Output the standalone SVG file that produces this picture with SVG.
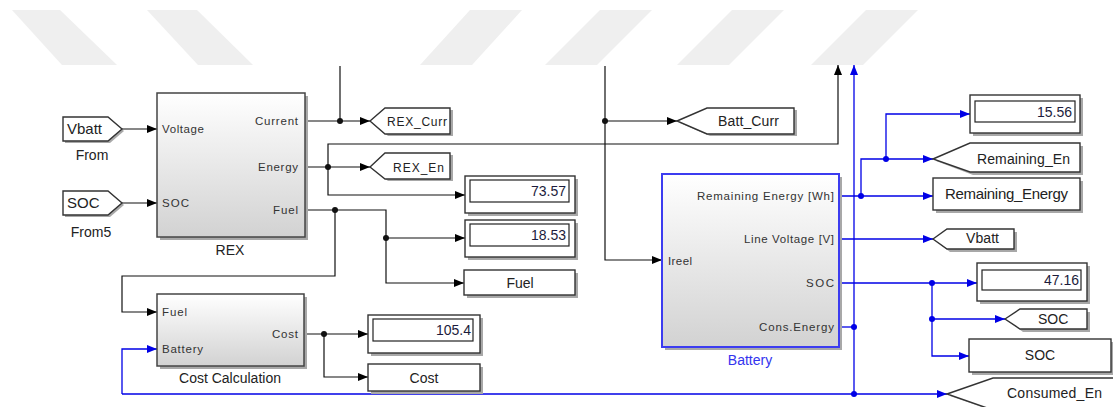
<svg xmlns="http://www.w3.org/2000/svg" width="1113" height="407" viewBox="0 0 1113 407">
<defs>
<linearGradient id="g" x1="0" y1="0" x2="0" y2="1"><stop offset="0" stop-color="#ffffff"/><stop offset="1" stop-color="#d2d2d2"/></linearGradient>
<marker id="ak" markerWidth="10" markerHeight="8" refX="10" refY="4" orient="auto" markerUnits="userSpaceOnUse"><path d="M0,0 L10,4 L0,8 z" fill="#000"/></marker>
<marker id="ab" markerWidth="10" markerHeight="8" refX="10" refY="4" orient="auto" markerUnits="userSpaceOnUse"><path d="M0,0 L10,4 L0,8 z" fill="#0000e6"/></marker>
</defs>
<style>
.wm{fill:#efefef}
.k{fill:none;stroke:#111;stroke-width:1.2}
.ka{fill:none;stroke:#111;stroke-width:1.2;marker-end:url(#ak)}
.b{fill:none;stroke:#0000e6;stroke-width:1.3}
.ba{fill:none;stroke:#0000e6;stroke-width:1.3;marker-end:url(#ab)}
.dk{fill:#111}
.db{fill:#0000e6}
.sh{fill:#a8a8a8}
.blk{fill:url(#g);stroke:#444;stroke-width:1.5}
.bblk{fill:url(#g);stroke:#3c3cf0;stroke-width:2}
.box{fill:#fff;stroke:#333;stroke-width:1.4}
.in{fill:#fff;stroke:#222;stroke-width:1.2}
.t{font-family:"Liberation Sans",Arial,sans-serif;fill:#222}
.p{font-size:11.5px;fill:#333}
.l{font-size:14px}
.n{font-size:14px;fill:#1c1c3c;text-anchor:end}
.m{text-anchor:middle}
.e{text-anchor:end}
</style>
<g id="watermark">
<polygon class="wm" points="12,10 60,10 117,65 62,65"/>
<polygon class="wm" points="147,10 197,10 253,65 198,65"/>
<polygon class="wm" points="470,10 522,10 472,65 420,65"/>
<polygon class="wm" points="600,10 652,10 597,65 545,65"/>
<polygon class="wm" points="732,10 784,10 729,65 677,65"/>
<polygon class="wm" points="866,10 918,10 863,65 811,65"/>
</g>
<g id="connectors">
<path class="ka" d="M122,129 H157"/>
<path class="ka" d="M122,203 H157"/>
<path class="ka" d="M305,121 H370"/>
<path class="k" d="M340,66 V121"/>
<path class="ka" d="M305,167 H370"/>
<path class="ka" d="M328,167 V144 H838 V65"/>
<path class="ka" d="M328,167 V195 H465"/>
<path class="ka" d="M305,210 H386 V283 H464"/>
<path class="ka" d="M386,238 H465"/>
<path class="ka" d="M335,210 V276 H122 V312 H157"/>
<path class="ka" d="M304,334 H368"/>
<path class="ka" d="M324,334 V377 H368"/>
<path class="ka" d="M605,66 V260 H662"/>
<path class="ka" d="M605,121 H677"/>
<path class="ba" d="M839,196 H933"/>
<path class="ba" d="M861,196 V159 H933"/>
<path class="ba" d="M886,159 V114 H970"/>
<path class="ba" d="M839,239 H933"/>
<path class="ba" d="M839,283 H977"/>
<path class="ba" d="M932,283 V356 H969"/>
<path class="ba" d="M932,319 H1005"/>
<path class="b" d="M839,327 H854"/>
<path class="ba" d="M854,394 V65"/>
<path class="ba" d="M122,394 H947"/>
<path class="ba" d="M122,394 V349 H157"/>
<circle class="dk" cx="340" cy="121" r="3"/>
<circle class="dk" cx="328" cy="167" r="3"/>
<circle class="dk" cx="335" cy="210" r="3"/>
<circle class="dk" cx="386" cy="238" r="3"/>
<circle class="dk" cx="324" cy="334" r="3"/>
<circle class="dk" cx="605" cy="121" r="3"/>
<circle class="db" cx="861" cy="196" r="3"/>
<circle class="db" cx="886" cy="159" r="3"/>
<circle class="db" cx="932" cy="283" r="3"/>
<circle class="db" cx="932" cy="319" r="3"/>
<circle class="db" cx="854" cy="327" r="3"/>
<circle class="db" cx="854" cy="394" r="3"/>
</g>
<g id="from-vbatt">
<polygon class="sh" points="65,119 110,119 124,131 110,143 65,143"/>
<polygon class="box" points="63,117 108,117 122,129 108,141 63,141"/>
<text class="t" x="67" y="134" font-size="15">Vbatt</text>
<text class="t l m" x="92" y="160">From</text>
</g>
<g id="from-soc">
<polygon class="sh" points="65,193 110,193 124,205 110,217 65,217"/>
<polygon class="box" points="63,191 108,191 122,203 108,215 63,215"/>
<text class="t" x="67" y="208" font-size="15">SOC</text>
<text class="t l m" x="91" y="237">From5</text>
</g>
<g id="rex">
<rect class="sh" x="160" y="96" width="148" height="144"/>
<rect class="blk" x="157" y="93" width="148" height="144"/>
<text class="t p" x="162" y="133" textLength="42">Voltage</text>
<text class="t p" x="162" y="207" textLength="27">SOC</text>
<text class="t p e" x="298" y="125" textLength="43">Current</text>
<text class="t p e" x="298" y="171" textLength="40">Energy</text>
<text class="t p e" x="298" y="214" textLength="25">Fuel</text>
<text class="t l m" x="230" y="255">REX</text>
</g>
<g id="goto-rex-curr">
<polygon class="sh" points="373,123 388,110 453,110 453,136 388,136"/>
<polygon class="box" points="370,121 385,108 450,108 450,134 385,134"/>
<text class="t" x="387" y="126" font-size="12" textLength="60">REX_Curr</text>
</g>
<g id="goto-rex-en">
<polygon class="sh" points="373,169 388,155 453,155 453,181 388,181"/>
<polygon class="box" points="370,167 385,153 450,153 450,179 385,179"/>
<text class="t" x="393" y="172" font-size="12" textLength="51">REX_En</text>
</g>
<g id="display-7357">
<rect class="sh" x="468" y="179" width="110" height="37"/>
<rect class="box" x="465" y="176" width="110" height="37"/>
<rect class="in" x="470" y="180" width="99" height="22"/>
<text class="t n" x="566" y="196">73.57</text>
</g>
<g id="display-1853">
<rect class="sh" x="468" y="223" width="110" height="37"/>
<rect class="box" x="465" y="220" width="110" height="37"/>
<rect class="in" x="470" y="224" width="99" height="22"/>
<text class="t n" x="566" y="240">18.53</text>
</g>
<g id="fuel">
<rect class="sh" x="467" y="273" width="111" height="25"/>
<rect class="box" x="464" y="270" width="111" height="25"/>
<text class="t l m" x="520" y="288">Fuel</text>
</g>
<g id="cost-calculation">
<rect class="sh" x="160" y="297" width="147" height="72"/>
<rect class="blk" x="157" y="294" width="147" height="72"/>
<text class="t p" x="162" y="316" textLength="25">Fuel</text>
<text class="t p" x="162" y="353" textLength="41">Battery</text>
<text class="t p e" x="298" y="338" textLength="26">Cost</text>
<text class="t l m" x="230" y="383">Cost Calculation</text>
</g>
<g id="display-1054">
<rect class="sh" x="371" y="318" width="112" height="38"/>
<rect class="box" x="368" y="315" width="112" height="38"/>
<rect class="in" x="373" y="319" width="100" height="22"/>
<text class="t n" x="471" y="335">105.4</text>
</g>
<g id="cost">
<rect class="sh" x="371" y="367" width="112" height="27"/>
<rect class="box" x="368" y="364" width="112" height="27"/>
<text class="t l m" x="424" y="383">Cost</text>
</g>
<g id="goto-batt-curr">
<polygon class="sh" points="680,123 710,110 797,110 797,136 710,136"/>
<polygon class="box" points="677,121 707,108 794,108 794,134 707,134"/>
<text class="t" x="718" y="126" font-size="14" textLength="61">Batt_Curr</text>
</g>
<g id="battery">
<rect class="sh" x="665" y="177" width="177" height="173"/>
<rect class="bblk" x="662" y="174" width="177" height="173"/>
<text class="t p e" x="834" y="200" textLength="137">Remaining Energy [Wh]</text>
<text class="t p e" x="834" y="243" textLength="90">Line Voltage [V]</text>
<text class="t p" x="668" y="265" textLength="24">Ireel</text>
<text class="t p e" x="834" y="287" textLength="28">SOC</text>
<text class="t p e" x="834" y="331" textLength="75">Cons.Energy</text>
<text class="t l m" x="750" y="365" style="fill:#3333ee">Battery</text>
</g>
<g id="display-1556">
<rect class="sh" x="973" y="98" width="110" height="38"/>
<rect class="box" x="970" y="95" width="110" height="38"/>
<rect class="in" x="975" y="101" width="100" height="21"/>
<text class="t n" x="1072" y="117">15.56</text>
</g>
<g id="goto-remaining-en">
<polygon class="sh" points="936,161 973,146 1083,146 1083,175 973,175"/>
<polygon class="box" points="933,159 970,143 1080,143 1080,172 970,172"/>
<text class="t" x="977" y="164" font-size="14" textLength="93">Remaining_En</text>
</g>
<g id="remaining-energy">
<rect class="sh" x="936" y="181" width="147" height="32"/>
<rect class="box" x="933" y="178" width="147" height="32"/>
<text class="t" x="945" y="199" font-size="15" textLength="123">Remaining_Energy</text>
</g>
<g id="goto-vbatt">
<polygon class="sh" points="936,241 950,232 1017,232 1017,252 950,252"/>
<polygon class="box" points="933,239 947,229 1014,229 1014,249 947,249"/>
<text class="t" x="966" y="243" font-size="14" textLength="33">Vbatt</text>
</g>
<g id="display-4716">
<rect class="sh" x="980" y="266" width="110" height="38"/>
<rect class="box" x="977" y="263" width="110" height="38"/>
<rect class="in" x="982" y="270" width="99" height="20"/>
<text class="t n" x="1079" y="285">47.16</text>
</g>
<g id="goto-soc">
<polygon class="sh" points="1008,321 1023,312 1090,312 1090,332 1023,332"/>
<polygon class="box" points="1005,319 1020,309 1087,309 1087,329 1020,329"/>
<text class="t" x="1038" y="324" font-size="14">SOC</text>
</g>
<g id="soc">
<rect class="sh" x="972" y="342" width="142" height="33"/>
<rect class="box" x="969" y="339" width="142" height="33"/>
<text class="t l m" x="1040" y="360">SOC</text>
</g>
<g id="goto-consumed-en">
<polygon class="sh" points="950,396 996,381 1116,381 1116,412 996,412"/>
<polygon class="box" points="947,394 993,378 1115,378 1115,410 993,410"/>
<text class="t" x="1007" y="398" font-size="14" textLength="95">Consumed_En</text>
</g>
</svg>
